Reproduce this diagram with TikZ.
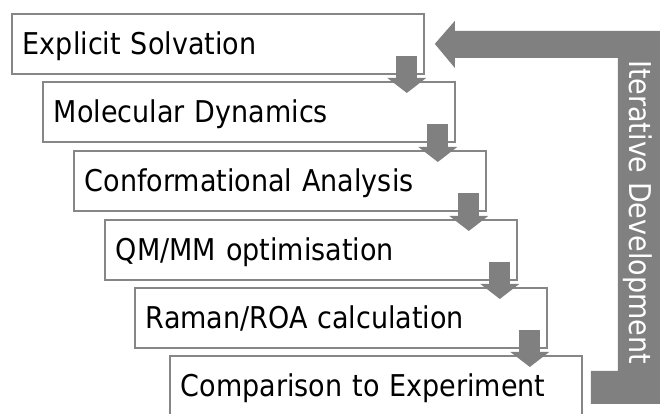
\documentclass[tikz,border=0pt]{standalone}
\usepackage{fontspec}
\setmainfont{DejaVu Sans Condensed}
\usetikzlibrary{arrows.meta}

\definecolor{boxgray}{RGB}{134,134,134}
\definecolor{flowgray}{RGB}{128,128,128}

\begin{document}
\begin{tikzpicture}[x=1pt, y=1pt,
   stage/.style = {rectangle, draw=boxgray, line width=1.8pt, fill=white,% boxes of the workflow
                   minimum width=412pt, minimum height=60pt,
                   text width=390pt, align=left, inner xsep=10pt,
                   text height=21.8pt, text depth=0pt,
                   anchor=north west, font=\fontsize{30}{36}\selectfont},
    flow/.style = {draw=flowgray, line width=21pt,% block arrows between boxes
                   -{Triangle[width=38pt,length=15pt]}},
                    ]
\useasboundingbox (0,0) rectangle (660,414);
\foreach \x/\y/\t [count=\i] in {11/401/{Explicit Solvation}, 42/333/{Molecular Dynamics},
        73/264/{Conformational Analysis}, 104/195/{QM/MM optimisation},
        134/127/{Raman/ROA calculation}, 169/59/{Comparison to Experiment}}% <-- stages
    \node[stage] (S\i) at (\x,\y) {\t};
\foreach \i [count=\j from 2] in {1,...,5}{
    \coordinate (a\i) at ([shift={(-18,19)}]S\i.south east);
    \draw[flow] (a\i) -- ([yshift=-12pt]a\i |- S\j.north);
}
% feedback loop
\coordinate (ft) at ([xshift=10pt]S1.east);
\coordinate (fb) at ([xshift=8pt]S6.east);
\fill[flowgray] (ft) -- ++(20,23) -- ++(0,-10) -- ++(207,0) |- ([yshift=-18pt]fb)
    -- ++(0,33) -- ++(27,0) |- ([shift={(20,-14)}]ft) -- ++(0,-10) -- cycle;
\node[rotate=-90, text=white, inner sep=0pt, text height=21.8pt, text depth=0pt,
      font=\fontsize{30}{36}\selectfont] (loop) at (640,202) {Iterative Development};
\end{tikzpicture}
\end{document}
